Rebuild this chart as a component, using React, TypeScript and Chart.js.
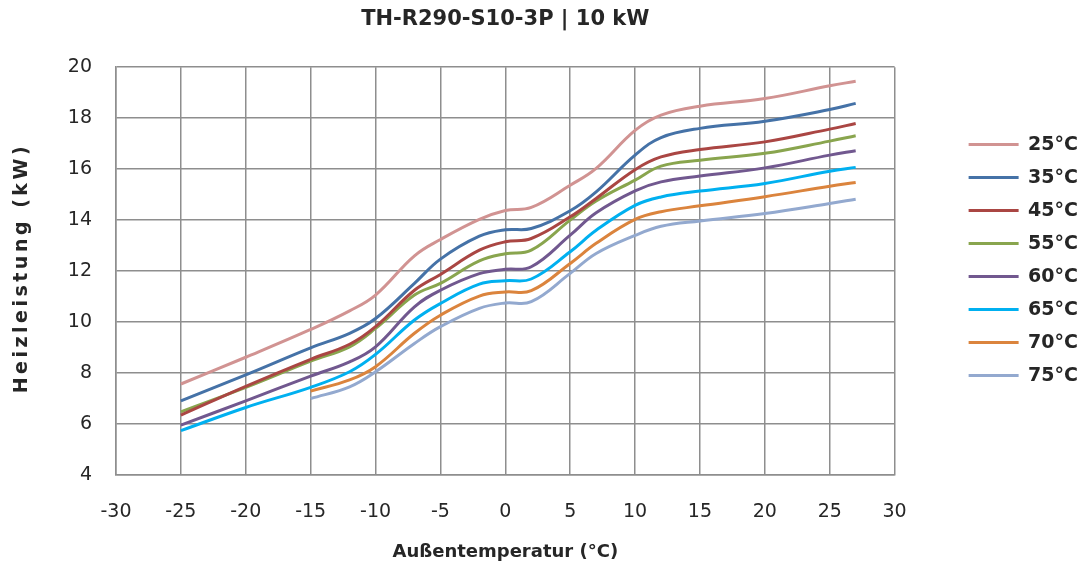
import React, { useEffect, useRef } from 'react';
import { Chart, registerables } from 'chart.js';

Chart.register(...registerables);

// Outdoor temperature (°C) sample points
const temps = [-25, -20, -15, -12, -10, -7, -5, -2, 0, 2, 5, 7, 10, 12, 15, 20, 25, 27];

// Heating capacity (kW) per flow temperature
const s25 = [7.57, 8.62, 9.71, 10.44, 11.06, 12.6, 13.24, 14.03, 14.38, 14.5, 15.37, 16.03, 17.52, 18.12, 18.47, 18.77, 19.27, 19.45];
const s35 = [6.91, 7.93, 8.99, 9.56, 10.14, 11.52, 12.47, 13.37, 13.62, 13.67, 14.37, 15.11, 16.55, 17.24, 17.6, 17.88, 18.34, 18.58];
const s45 = [6.35, 7.48, 8.54, 9.13, 9.82, 11.25, 11.87, 12.82, 13.15, 13.28, 14.13, 14.85, 15.98, 16.48, 16.77, 17.07, 17.57, 17.79];
const s55 = [6.48, 7.44, 8.47, 9.03, 9.75, 11.06, 11.52, 12.4, 12.68, 12.82, 14.0, 14.75, 15.57, 16.12, 16.35, 16.62, 17.1, 17.31];
const s60 = [5.96, 6.91, 7.88, 8.44, 9.03, 10.6, 11.25, 11.9, 12.07, 12.17, 13.41, 14.29, 15.15, 15.5, 15.73, 16.05, 16.55, 16.72];
const s65 = [5.74, 6.65, 7.44, 8.05, 8.73, 10.08, 10.73, 11.49, 11.62, 11.69, 12.76, 13.6, 14.58, 14.91, 15.14, 15.44, 15.92, 16.07];
const s70 = [null, null, 7.29, 7.73, 8.25, 9.56, 10.27, 11.02, 11.18, 11.23, 12.3, 13.09, 14.03, 14.33, 14.56, 14.92, 15.33, 15.48];
const s75 = [null, null, 7.0, 7.46, 8.05, 9.16, 9.82, 10.54, 10.75, 10.8, 11.91, 12.69, 13.4, 13.76, 13.97, 14.26, 14.65, 14.82];

const seriesLabels = ['25°C', '35°C', '45°C', '55°C', '60°C', '65°C', '70°C', '75°C'];
const seriesColors = ['#D19392', '#4572A7', '#AA4643', '#89A54E', '#71588F', '#00B0F0', '#DB843D', '#93A9CF'];

const xMin = -30;
const xMax = 30;
const xStep = 5;
const yMin = 4;
const yMax = 20;
const yStep = 2;

const chartTitle = 'TH-R290-S10-3P | 10 kW';
const xTitle = 'Außentemperatur (°C)';
const yTitle = 'Heizleistung (kW)';

const FONT = "'DejaVu Sans', sans-serif";
const TEXT = '#262626';
const GRID = '#8e8e8e';

export default function App() {
  const ref = useRef<HTMLCanvasElement>(null);

  useEffect(() => {
    document.body.style.margin = '0';
    const canvas = ref.current;
    if (!canvas) return;
    const series = [s25, s35, s45, s55, s60, s65, s70, s75];
    const datasets = series.map((vals, i) => ({
      label: seriesLabels[i],
      data: temps
        .map((t, j) => ({ x: t, y: vals[j] }))
        .filter((p) => p.y !== null),
      borderColor: seriesColors[i],
      backgroundColor: seriesColors[i],
      borderWidth: 3,
      pointRadius: 0,
      pointHoverRadius: 0,
      tension: 0.4,
      fill: false,
    }));

    const yTitlePlugin = {
      id: 'yTitlePlugin',
      afterLayout(chart: any) {
        const lg = chart.legend;
        if (lg) {
          lg.top -= 11;
          lg.bottom -= 11;
          lg.left += 1;
          lg.right += 1;
        }
      },
      afterDraw(chart: any) {
        const ctx = chart.ctx;
        const area = chart.chartArea;
        ctx.save();
        ctx.translate(22, (area.top + area.bottom) / 2 - 3);
        ctx.rotate(-Math.PI / 2);
        ctx.font = `bold 19px ${FONT}`;
        (ctx as any).letterSpacing = '3.5px';
        ctx.fillStyle = TEXT;
        ctx.textAlign = 'center';
        ctx.textBaseline = 'middle';
        ctx.fillText(yTitle, 0, 0);
        ctx.restore();
      },
    };

    const chart = new Chart(canvas, {
      type: 'line',
      data: { datasets },
      plugins: [yTitlePlugin],
      options: {
        responsive: true,
        maintainAspectRatio: false,
        animation: false,
        events: [],
        layout: { padding: 0 },
        plugins: {
          title: {
            display: true,
            text: chartTitle,
            fullSize: false,
            color: TEXT,
            font: { family: FONT, size: 21, weight: 'bold' },
            padding: { top: 7, bottom: 35 },
          },
          legend: {
            position: 'right',
            fullSize: false,
            labels: {
              usePointStyle: true,
              pointStyle: 'line',
              pointStyleWidth: 50,
              padding: 14,
              color: TEXT,
              font: { family: FONT, size: 19, weight: 'bold' },
            },
          },
          tooltip: { enabled: false },
        },
        scales: {
          x: {
            type: 'linear',
            min: xMin,
            max: xMax,
            afterFit: (s: any) => {
              s.height = 91;
            },
            ticks: {
              stepSize: xStep,
              padding: 26,
              color: TEXT,
              font: { family: FONT, size: 19 },
            },
            grid: { color: GRID, lineWidth: 1.5, drawTicks: false },
            border: { color: GRID, width: 1.5 },
            title: {
              display: true,
              text: xTitle,
              color: TEXT,
              font: { family: FONT, size: 18, weight: 'bold' },
              padding: { top: 0, bottom: 3 },
            },
          },
          y: {
            type: 'linear',
            min: yMin,
            max: yMax,
            afterFit: (s: any) => {
              s.width = 116;
            },
            ticks: {
              stepSize: yStep,
              padding: 24,
              color: TEXT,
              font: { family: FONT, size: 19 },
            },
            grid: { color: GRID, lineWidth: 1.5, drawTicks: false },
            border: { color: GRID, width: 1.5 },
          },
          yRightGap: {
            type: 'linear',
            position: 'right',
            display: true,
            afterFit: (s: any) => {
              s.width = 59;
            },
            ticks: { display: false },
            grid: { display: false, drawTicks: false },
            border: { display: false },
          },
        },
      } as any,
    });
    return () => chart.destroy();
  }, []);

  return (
    <div style={{ position: 'relative', width: '1087px', height: '566px' }}>
      <canvas ref={ref} />
    </div>
  );
}
